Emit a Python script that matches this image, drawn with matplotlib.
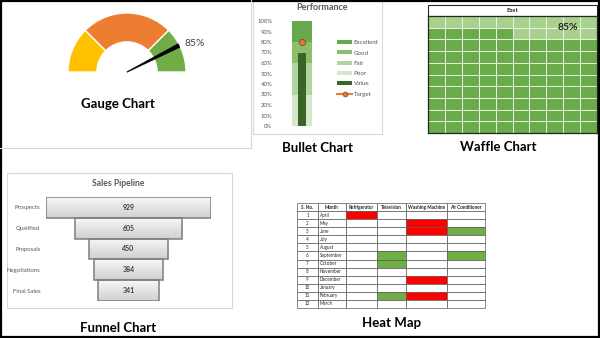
import matplotlib
matplotlib.use('Agg')
import matplotlib.pyplot as plt
import numpy as np
from matplotlib.patches import Wedge, Polygon, Rectangle
from matplotlib.lines import Line2D
from matplotlib.colors import ListedColormap, LinearSegmentedColormap

plt.rcParams['font.family'] = ['Lato', 'DejaVu Sans']

# ---- gauge ----
gauge_bands = [25, 50, 25]            # share of the dial, left to right
gauge_colors = ['#FFC000', '#ED7D31', '#70AD47']
gauge_value = 85

# ---- bullet ----
bullet_names = ['Poor', 'Fair', 'Good', 'Excellent']
bullet_limits = [30, 60, 80, 100]
bullet_colors = ['#D4E7C8', '#B3D4A0', '#8DBE6D', '#6AA84F']
bullet_value = 70
bullet_target = 80

# ---- waffle ----
waffle_region = 'East'
waffle_pct = 85

# ---- funnel ----
funnel_stages = ['Prospects', 'Qualified', 'Proposals', 'Negotiations', 'Final Sales']
funnel_values = [929, 605, 450, 384, 341]

# ---- heat map ----
heat_months = ['April', 'May', 'June', 'July', 'August', 'September', 'October',
               'November', 'December', 'January', 'February', 'March']
heat_products = ['Refrigerator', 'Television', 'Washing Machine', 'Air Conditioner']
# 1 = red, -1 = green, 0 = blank
heat_flags = [[1, 0, 0, 0],
              [0, 0, 1, 0],
              [0, 0, 1, -1],
              [0, 0, 0, 0],
              [0, 0, 0, 0],
              [0, -1, 0, -1],
              [0, -1, 0, 0],
              [0, 0, 0, 0],
              [0, 0, 1, 0],
              [0, 0, 0, 0],
              [0, -1, 1, 0],
              [0, 0, 0, 0]]

W, H = 600, 338
fig = plt.figure(figsize=(6, 3.38), dpi=100)


def px_axes(x0, y0, x1, y1):
    return fig.add_axes([x0 / W, 1 - y1 / H, (x1 - x0) / W, (y1 - y0) / H])


# background layer: frames and captions
bg = px_axes(0, 0, W, H)
bg.set_xlim(0, W)
bg.set_ylim(H, 0)
bg.axis('off')
grey = '#D9D9D9'
bg.plot([251, 251], [0, 148], color=grey, lw=0.8)
bg.plot([0, 251], [148, 148], color=grey, lw=0.8)
bg.add_patch(Rectangle((253, 0), 129, 134, fill=False, ec=grey, lw=0.8))
bg.add_patch(Rectangle((7, 173), 225, 135, fill=False, ec=grey, lw=0.8))
bg.add_patch(Rectangle((428, 5), 169, 11, fc='white', ec='#262626', lw=0.8))
bg.text(512, 10.5, waffle_region, ha='center', va='center', fontsize=4.5,
        fontweight='bold', color='#262626')
for txt, x, y in [('Gauge Chart', 118, 104), ('Bullet Chart', 317, 148),
                  ('Waffle Chart', 498, 147), ('Funnel Chart', 118, 328),
                  ('Heat Map', 392, 323)]:
    bg.text(x, y, txt, ha='center', va='center', fontsize=9.5, fontweight='bold',
            color='black')
bg.add_patch(Rectangle((0.8, 0.8), W - 1.6, H - 1.6, fill=False, ec='black', lw=1.6))

# ---- gauge ----
ax = px_axes(57, 2, 197, 82)
ax.set_xlim(-70 / 59, 70 / 59)
ax.set_ylim(-10 / 59, 70 / 59)
ax.axis('off')
start = 0
for share, col in zip(gauge_bands, gauge_colors):
    t2 = 180 - start * 1.8
    t1 = 180 - (start + share) * 1.8
    ax.add_patch(Wedge((0, 0), 1, t1, t2, width=0.49, fc=col, ec='white', lw=1))
    start += share
a = np.radians(180 - 1.8 * gauge_value)
d = np.array([np.cos(a), np.sin(a)])
p = np.array([-np.sin(a), np.cos(a)])
tip = 0.99 * d
ax.add_patch(Polygon([p * 0.006, tip + p * 0.035, tip - p * 0.035, -p * 0.006],
                     closed=True, fc='black', ec='black', lw=0.3))
ax.text(0.97, 0.49, f'{gauge_value}%', ha='left', va='center', fontsize=7.5,
        color='#404040')

# ---- bullet ----
ax = px_axes(282, 21, 322, 126)
ax.patch.set_alpha(0)
handles = []
prev = 0
for name, lim, col in zip(bullet_names, bullet_limits, bullet_colors):
    b = ax.bar(0, lim - prev, bottom=prev, width=1, color=col, label=name)
    handles.append(b)
    prev = lim
handles = handles[::-1]
vb = ax.bar(0, bullet_value, width=0.4, color='#3B6428', label='Value')
handles.append(vb)
ax.plot([0], [bullet_target], 'o', ms=4.5, mfc='#E0782F', mec='#8A4A12',
        mew=0.6, label='Target')
handles.append(Line2D([], [], color='#ED7D31', lw=1.5, marker='o', ms=3.5,
                      mfc='#E0782F', mec='#8A4A12', mew=0.5))
ax.set_xlim(-1, 1)
ax.set_ylim(0, 100)
ax.set_yticks(range(0, 101, 10))
ax.set_yticklabels([f'{v}%' for v in range(0, 101, 10)])
ax.tick_params(axis='y', length=0, pad=7, labelsize=4.3, labelcolor='#595959')
ax.set_xticks([])
for s in ax.spines.values():
    s.set_visible(False)
fig.legend(handles, ['Excellent', 'Good', 'Fair', 'Poor', 'Value', 'Target'],
           loc='upper left', bbox_to_anchor=(337 / W, 1 - 40 / H), frameon=False,
           fontsize=4.5, labelcolor='#595959', handlelength=2.4, handleheight=0.65,
           handletextpad=0.3, labelspacing=0.8, borderpad=0, borderaxespad=0)
bg.text(322, 7, 'Performance', ha='center', va='center', fontsize=6.5,
        fontweight='bold', color='#595959')

# ---- waffle ----
ax = px_axes(428, 16, 597, 133)
grid = np.zeros((10, 10))
for r in range(10):
    for c in range(10):
        idx = (9 - r) * 10 + c
        grid[r, c] = 1 if idx < waffle_pct else 0
ax.pcolormesh(np.arange(11), np.arange(11), grid,
              cmap=ListedColormap(['#A9D18E', '#6AAB4C']), vmin=0, vmax=1,
              edgecolors='#E6F0DE', linewidth=0.5)
ax.set_xlim(0, 10)
ax.set_ylim(10, 0)
ax.set_xticks([])
ax.set_yticks([])
for s in ax.spines.values():
    s.set_color('#262626')
    s.set_linewidth(0.9)
ax.text(8.25, 0.95, f'{waffle_pct}%', ha='center', va='center', fontsize=7.5,
        fontweight='bold', color='#262626')

# ---- funnel ----
ax = px_axes(46, 197, 211, 301)
ax.patch.set_alpha(0)
half = max(funnel_values) / 2
grad = np.linspace(0, 1, 64).reshape(-1, 1)
gcmap = LinearSegmentedColormap.from_list('g', ['#F7F7F7', '#D0D0D0'])
for i, v in enumerate(funnel_values):
    bar = ax.barh(i, v, left=-v / 2, height=1, color='none', ec='#7F7F7F', lw=1.1,
                  zorder=3)[0]
    im = ax.imshow(grad, extent=[-v / 2, v / 2, i + 0.5, i - 0.5], aspect='auto',
                   cmap=gcmap, zorder=2)
    im.set_clip_path(bar)
    ax.text(0, i, str(v), ha='center', va='center', fontsize=5, fontweight='bold',
            color='#404040', zorder=4)
ax.set_xlim(-half, half)
ax.set_ylim(len(funnel_values) - 0.5, -0.5)
ax.set_yticks(range(len(funnel_stages)))
ax.set_yticklabels(funnel_stages)
ax.tick_params(axis='y', length=0, pad=4, labelsize=4.3, labelcolor='#595959')
ax.set_xticks([])
for s in ax.spines.values():
    s.set_visible(False)
bg.text(118, 184, 'Sales Pipeline', ha='center', va='center', fontsize=6.2,
        fontweight='bold', color='#595959')

# ---- heat map ----
ax = px_axes(297, 203, 485, 308)
ax.axis('off')
col_w = [21, 28, 31, 29, 41, 38]
edges = np.concatenate([[0], np.cumsum(col_w)])
ax.set_xlim(0, edges[-1])
ax.set_ylim(len(heat_months) + 1, 0)
cell = dict(ec='#595959', lw=0.5, clip_on=False)
header = ['S. No.', 'Month'] + heat_products
for j, h in enumerate(header):
    ax.add_patch(Rectangle((edges[j], 0), col_w[j], 1, fc='white', **cell))
    ax.text(edges[j] + col_w[j] / 2, 0.5, h, ha='center', va='center', fontsize=3.3,
            fontweight='bold', color='#262626')
fill = {1: '#FF0000', -1: '#70AD47', 0: 'white'}
for i, m in enumerate(heat_months):
    y = i + 1
    ax.add_patch(Rectangle((edges[0], y), col_w[0], 1, fc='white', **cell))
    ax.add_patch(Rectangle((edges[1], y), col_w[1], 1, fc='white', **cell))
    ax.text(edges[0] + col_w[0] / 2, y + 0.5, str(i + 1), ha='center', va='center',
            fontsize=3.3, color='#262626')
    ax.text(edges[1] + 1.5, y + 0.5, m, ha='left', va='center', fontsize=3.3,
            color='#262626')
    for k, f in enumerate(heat_flags[i]):
        ax.add_patch(Rectangle((edges[k + 2], y), col_w[k + 2], 1, fc=fill[f], **cell))

fig.savefig('out.png', dpi=100)
